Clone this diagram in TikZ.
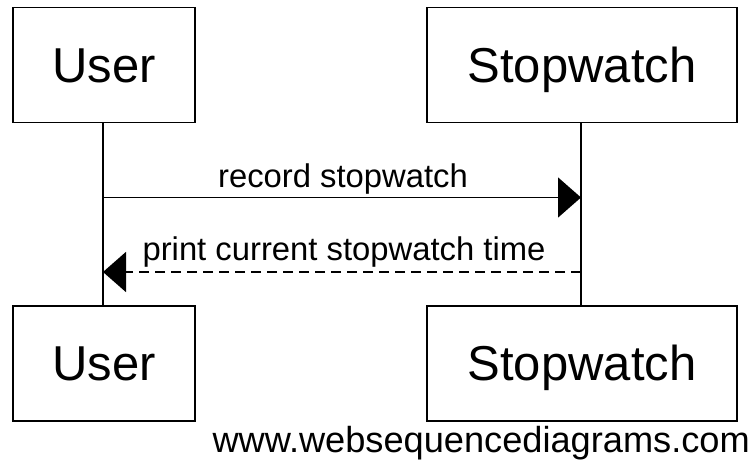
\documentclass[tikz,border=0pt]{standalone}
\usepackage{fontspec}
\setmainfont{Liberation Sans}
\usetikzlibrary{arrows.meta}
\begin{document}
\begin{tikzpicture}[x=1pt,y=-1pt,
  actor/.style={draw, line width=1.6pt, minimum width=182pt, minimum height=115pt, inner sep=0pt, text height=35pt, text depth=0pt, font=\fontsize{49}{49}\selectfont},
  actorw/.style={actor, minimum width=310pt},
  lifeline/.style={line width=1.6pt},
  msg/.style={line width=1.6pt, -{Triangle[length=23pt,width=40pt]}},
  ret/.style={msg, dash pattern=on 10pt off 6pt},
  lbl/.style={anchor=base, inner sep=0pt, font=\fontsize{32.8}{33}\selectfont}]
\useasboundingbox (0,0) rectangle (753,465);
\node[actor] (ut) at (104,65) {User};
\node[actorw] (st) at (582,65) {Stopwatch};
\node[actor] (ub) at (104,363.25) {User};
\node[actorw] (sb) at (582,363.25) {Stopwatch};
\coordinate (u1) at (103,197.5);
\coordinate (s1) at (581,197.5);
\coordinate (u2) at (103,272);
\coordinate (s2) at (581,272);
\draw[lifeline] (ut.south -| u1) -- (ub.north -| u1);
\draw[lifeline] (st.south -| s1) -- (sb.north -| s1);
\draw[msg] (u1) -- (s1);
\draw[ret] (s2) -- (u2);
\node[lbl] (l1) at (343,188) {record stopwatch};
\node[lbl] (l2) at (344,261) {print current stopwatch time};
\node[anchor=base east, inner sep=0pt, font=\fontsize{36.2}{37}\selectfont] (wm) at (750,452) {www.websequencediagrams.com};
\end{tikzpicture}
\end{document}
